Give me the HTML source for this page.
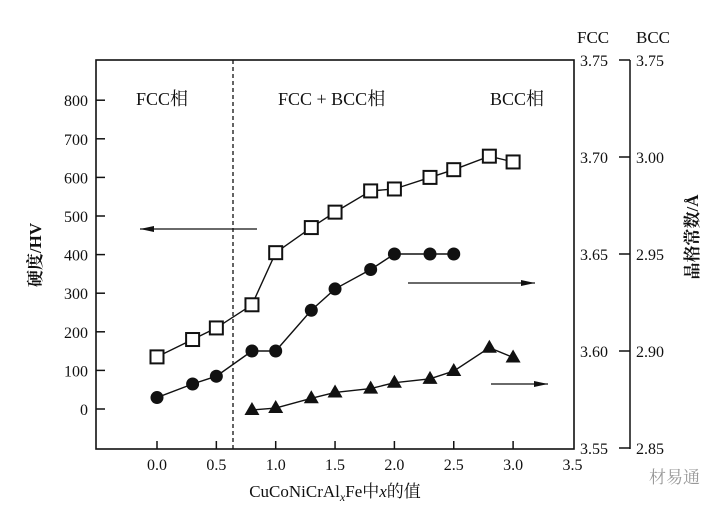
<!DOCTYPE html>
<html><head><meta charset="utf-8"><style>
body{margin:0;background:#fff}
svg text{font-family:"Liberation Serif","Noto Serif CJK SC",serif;fill:#111}
</style></head><body>
<svg id="c" width="725" height="509" xmlns="http://www.w3.org/2000/svg">
<rect width="725" height="509" fill="#fff"/>
</svg>
<script>
const xVals=[0,0.3,0.5,0.8,1.0,1.3,1.5,1.8,2.0,2.3,2.5,2.8,3.0];
const hardness=[135,180,210,270,405,470,510,565,570,600,620,655,640];
const fccX=[0,0.3,0.5,0.8,1.0,1.3,1.5,1.8,2.0,2.3,2.5];
const fccLattice=[3.576,3.583,3.587,3.600,3.600,3.621,3.632,3.642,3.650,3.650,3.650];
const bccX=[0.8,1.0,1.3,1.5,1.8,2.0,2.3,2.5,2.8,3.0];
const bccLattice=[2.870,2.871,2.876,2.879,2.881,2.884,2.886,2.890,2.902,2.897];
const xTicks=["0.0","0.5","1.0","1.5","2.0","2.5","3.0","3.5"];
const yTicks=[0,100,200,300,400,500,600,700,800];
const fccTicks=["3.55","3.60","3.65","3.70","3.75"];
const bccTicks=["2.85","2.90","2.95","3.00","3.75"];

const L=96,R=574,T=60,B=449;
const sx=v=>157+v*118.7;
const sy=v=>409-v*0.386;
const sf=v=>60+(3.75-v)*1940;
const sb=v=>157+(3.00-v)*1946;
const svg=document.getElementById('c');
const NS="http://www.w3.org/2000/svg";
function mk(t,a,txt){const e=document.createElementNS(NS,t);for(const k in a)e.setAttribute(k,a[k]);if(txt!==undefined)e.textContent=txt;svg.appendChild(e);return e;}

let e=mk('rect',{x:L,y:T,width:R-L,height:B-T,fill:'none',stroke:'#111','stroke-width':1.6});


e=mk('line',{x1:233,y1:T,x2:233,y2:B,stroke:'#111','stroke-width':1.3,'stroke-dasharray':'4,3'});



yTicks.forEach(v=>{const y=sy(v);
 e=mk('line',{x1:L,y1:y,x2:L+9,y2:y,stroke:'#111','stroke-width':1.5});
 
 
 e=mk('text',{x:88,y:y+6,'text-anchor':'end','font-size':16},String(v));
 
 
});
xTicks.forEach(s=>{const x=sx(parseFloat(s));
 if(parseFloat(s)<3.5){e=mk('line',{x1:x,y1:B,x2:x,y2:B-8,stroke:'#111','stroke-width':1.5});
 
 }
 e=mk('text',{x:x,y:470,'text-anchor':'middle','font-size':16},s);
 
 
});
e=mk('line',{x1:630,y1:T,x2:630,y2:B,stroke:'#111','stroke-width':1.5});


fccTicks.forEach((s,i)=>{const y=sf(parseFloat(s));
 e=mk('text',{x:580,y:y+6,'font-size':16},s);
 
 
 e=mk('line',{x1:619,y1:y,x2:630,y2:y,stroke:'#111','stroke-width':1.5});
 
 
 e=mk('text',{x:636,y:y+6,'font-size':16},bccTicks[i]);
 
 
});
e=mk('text',{x:577,y:43,'font-size':17},'FCC');


e=mk('text',{x:636,y:43,'font-size':17},'BCC');



function poly(xs,ys,name){const p=xs.map((x,i)=>sx(x)+','+ys[i]).join(' ');
 e=mk('polyline',{points:p,fill:'none',stroke:'#111','stroke-width':1.4});
 
 }
poly(xVals,hardness.map(sy),'hardness-line');
poly(fccX,fccLattice.map(sf),'fcc-lattice-line');
poly(bccX,bccLattice.map(sb),'bcc-lattice-line');
xVals.forEach((x,i)=>{e=mk('rect',{x:sx(x)-6.5,y:sy(hardness[i])-6.5,width:13,height:13,fill:'#fff',stroke:'#111','stroke-width':2});
 
 });
fccX.forEach((x,i)=>{e=mk('circle',{cx:sx(x),cy:sf(fccLattice[i]),r:6.5,fill:'#111'});
 
 });
bccX.forEach((x,i)=>{const cx=sx(x),cy=sb(bccLattice[i]);
 e=mk('polygon',{points:`${cx},${cy-8} ${cx-7.5},${cy+5} ${cx+7.5},${cy+5}`,fill:'#111'});
 
 });

function arrow(x1,x2,y,name){e=mk('line',{x1:x1,y1:y,x2:x2,y2:y,stroke:'#111','stroke-width':1.3});
 
 
 const d=x2>x1?-1:1;
 e=mk('polygon',{points:`${x2},${y} ${x2+d*14},${y-3} ${x2+d*14},${y+3}`,fill:'#111'});}
arrow(257,140,229,'hardness-axis-arrow');
arrow(408,535,283,'fcc-axis-arrow');
arrow(491,548,384,'bcc-axis-arrow');

[['FCC相',136,'fcc-region-label'],['FCC + BCC相',278,'mixed-region-label'],['BCC相',490,'bcc-region-label']].forEach(a=>{
 e=mk('text',{x:a[1],y:105,'font-size':18},a[0]);
 
 });
e=mk('text',{x:0,y:0,'font-size':17,'font-weight':'bold','text-anchor':'middle',transform:'translate(41,255) rotate(-90)'},'硬度/HV');


e=mk('text',{x:0,y:0,'font-size':17,'font-weight':'bold','text-anchor':'middle',transform:'translate(698,237) rotate(-90)'},'晶格常数/Å');


e=mk('text',{x:335,y:497,'font-size':17,'text-anchor':'middle'});
e.innerHTML='CuCoNiCrAl<tspan font-size="12" dy="4" font-style="italic">x</tspan><tspan dy="-4">Fe中</tspan><tspan font-style="italic">x</tspan>的值';


e=mk('text',{x:649,y:483,'font-size':17,style:'fill:#999'},'材易通');


</script>
</body></html>
